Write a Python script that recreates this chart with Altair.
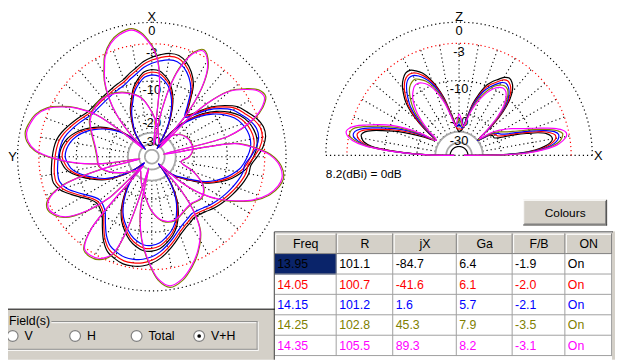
import altair as alt
import numpy as np
import pandas as pd

# ---------------- data ----------------
FREQ = ["13.95", "14.05", "14.15", "14.25", "14.35"]
R_COL = ["101.1", "100.7", "101.2", "102.8", "105.5"]
JX_COL = ["-84.7", "-41.6", "1.6", "45.3", "89.3"]
GA_COL = ["6.4", "6.1", "5.7", "7.9", "8.2"]
FB_COL = ["-1.9", "-2.0", "-2.1", "-3.5", "-3.1"]
ON_COL = ["On", "On", "On", "On", "On"]
HEADERS = ["Freq", "R", "jX", "Ga", "F/B", "ON"]
COLORS = ["#000000", "#ff0000", "#0000ff", "#808000", "#ff00ff"]

RING_DB = [0, -3, -10, -20, -30]
RING_LABELS = ["0", "-3", "-10", "-20", "-30"]
FIELDS = ["V", "H", "Total", "V+H"]
SELECTED_FIELD = "V+H"
REF_TEXT = "8.2(dBi) = 0dB"

# azimuth patterns (angle from X axis counter-clockwise, dB)
AZ_A1 = [(0,-8.0),(5,-8.4),(10,-9.7),(15,-11.5),(19,-13.9),(24,-16.7),(29,-20.8),(35,-26.3),(39,-35.1),(41,-45.3),
         (43,-38.3),(46,-29.4),(50,-22.6),(55,-18.1),(60,-14.8),(65,-12.3),(70,-10.3),(75,-8.8),(80,-7.8),(85,-7.2),
         (90,-7.0),(94,-7.4),(98,-8.0),(102,-9.2),(106,-11.0),(110,-13.1),(115,-16.0),(118,-18.5),(121,-22.2),(124,-26.3),
         (127,-33.3),(130,-45.3),(135,-31.6),(140,-23.1),(145,-18.1),(150,-14.2),(155,-11.5),(160,-9.7),(165,-8.2),(170,-7.2),
         (175,-6.6),(180,-6.6),(185,-7.0),(190,-8.0),(195,-9.2),(200,-11.0),(205,-13.7),(210,-17.4),(215,-23.6),(220,-35.1),
         (223,-45.3),(226,-33.3),(230,-26.3),(235,-22.2),(239,-18.8),(245,-13.7),(250,-11.0),(255,-8.8),(260,-7.2),(263,-6.4),
         (270,-5.3),(275,-4.7),(280,-4.5),(285,-4.7),(290,-5.2),(295,-6.1),(300,-7.6),(305,-9.7),(310,-12.6),(315,-16.7),
         (320,-23.1),(324,-31.6),(327,-45.3),(330,-31.6),(332,-24.1),(335,-19.2),(339,-14.8),(343,-12.0),(347,-10.1),(351,-9.0),
         (355,-8.2)]
AZ_A2 = [(0,-5.7),(5,-6.4),(10,-7.4),(15,-8.2),(20,-9.0),(25,-9.4),(30,-9.7),(40,-10.1),(50,-10.1),(55,-9.9),
         (60,-9.2),(65,-8.4),(70,-7.6),(75,-6.8),(80,-6.2),(85,-5.9),(90,-5.7),(95,-5.5),(100,-5.3),(105,-5.3),
         (110,-6.1),(115,-7.6),(120,-9.2),(125,-10.6),(130,-11.3),(135,-11.0),(140,-10.1),(145,-8.2),(150,-6.2),(155,-4.8),
         (160,-4.2),(165,-3.8),(170,-3.8),(175,-4.0),(180,-4.5),(185,-5.3),(190,-6.4),(195,-7.6),(200,-8.8),(205,-9.7),
         (210,-10.3),(215,-10.8),(220,-10.6),(225,-10.1),(230,-9.4),(235,-8.8),(240,-8.2),(245,-7.6),(250,-7.0),(255,-6.4),
         (260,-5.9),(265,-5.7),(270,-4.7),(275,-3.7),(280,-3.1),(285,-3.1),(290,-3.7),(295,-4.7),(300,-5.7),(305,-7.6),
         (310,-10.1),(315,-13.7),(320,-16.0),(325,-12.8),(330,-8.8),(335,-6.8),(340,-5.5),(345,-4.8),(350,-4.8),(355,-5.2)]
AZ_B1 = [(0,-3.4),(5,-1.5),(9,-0.8),(15,-1.1),(20,-1.9),(25,-3.4),(28,-5.0),(32,-7.2),(36,-10.6),(40,-15.7),
         (44,-26.3),(47,-42.2),(50,-23.6),(53,-11.5),(57,-7.2),(61,-4.7),(65,-2.8),(70,-1.6),(75,-1.1),(79,-0.9),
         (83,-1.3),(87,-2.5),(91,-5.5),(95,-10.3),(98,-17.4),(101,-42.2),(104,-16.7),(108,-6.2),(113,-3.1),(117,-2.6),
         (121,-3.1),(125,-4.3),(130,-8.2),(134,-14.2),(137,-42.2),(140,-6.2),(144,-2.8),(148,-2.5),(153,-2.8),(158,-4.3),
         (161,-8.8),(163,-18.8),(165,-42.2),(168,-15.7),(173,-8.4),(178,-4.5),(183,-1.6),(188,-0.5),(194,-1.1),(200,-2.5),
         (206,-4.3),(213,-7.2),(217,-11.0),(221,-19.2),(225,-42.2),(229,-21.3),(233,-13.7),(238,-8.8),(242,-6.2),(247,-3.4),
         (252,-1.6),(257,-0.6),(261,-0.3),(266,-0.8),(271,-2.3),(275,-4.7),(279,-8.2),(282,-42.2),(285,-9.2),(290,-4.0),
         (294,-1.9),(298,-0.9),(302,-1.3),(306,-2.8),(310,-4.8),(313,-8.2),(316,-15.7),(318,-42.2),(321,-14.2),(325,-6.8),
         (329,-3.7),(334,-2.3),(338,-3.2),(342,-5.9),(345,-9.7),(348,-18.5),(351,-42.2),(354,-10.3),(357,-5.3)]
AZ_B2 = [(0,-19.2),(10,-14.2),(20,-12.0),(30,-10.6),(40,-9.9),(50,-10.1),(60,-11.0),(70,-13.1),(80,-14.8),(90,-15.7),
         (100,-16.0),(110,-19.2),(120,-25.1),(130,-31.6),(140,-35.1),(150,-31.6),(160,-26.3),(170,-21.3),(180,-15.7),(190,-12.6),
         (200,-12.0),(210,-13.1),(220,-13.7),(230,-12.8),(240,-14.2),(250,-19.2),(260,-26.3),(270,-22.2),(280,-20.4),(290,-20.4),
         (300,-21.3),(310,-23.6),(320,-29.4),(330,-38.3),(340,-33.3),(350,-25.1)]
AZ_SHAPES = {"13.95": ("A", 0.5), "14.05": ("A", 0.0), "14.15": ("A", -0.6),
             "14.25": ("B", 0.2), "14.35": ("B", 0.0)}

# elevation patterns (angle from +X toward Z, dB)
EL_ANG = [0,1,2,4,6,8,10,12,14,16,18,20,22,24,27,30,33,36,39,42,45,48,51,54,57,60,63,66,69,72,
          75,78,81,84,87,90,93,96,99,102,105,108,111,114,117,120,123,126,129,132,135,138,141,144,147,150,
          153,156,159,162,164,166,168,170,172,174,176,178,179,180]
EL_DB = {
    "13.95": [-57.4,-19.2,-14.2,-9.7,-7.6,-6.4,-5.9,-6.1,-6.8,
              -8.4,-11.0,-13.7,-16.7,-19.6,-21.3,-21.3,-22.2,-26.3,-30.1,-18.8,
              -13.1,-9.7,-7.8,-6.8,-6.4,-6.8,-7.8,-8.8,-10.1,-12.6,-15.7,-21.3,-26.3,-28.7,-29.4,-30.1,
              -28.7,-26.3,-22.2,-18.1,-13.7,-10.6,-8.4,-6.8,-5.9,-5.3,-5.3,-5.9,-6.8,-8.2,-9.9,-12.6,
              -16.7,-22.2,-27.5,-25.1,-20.4,-16.0,-12.0,-8.8,-6.8,-5.5,
              -5.0,-5.2,-5.7,-7.2,-11.5,-19.2,-26.3,-57.4],
    "14.05": [-57.4,-18.5,-13.4,-9.0,-7.0,-5.9,-5.3,-5.3,-6.1,
              -7.6,-9.9,-12.3,-15.1,-17.7,-19.6,-20.0,-21.3,-25.7,-30.1,-19.6,
              -13.7,-10.3,-8.4,-7.4,-7.0,-7.4,-8.4,-9.4,-10.8,-13.4,-16.4,-21.3,-26.3,-28.1,-28.1,-28.1,
              -28.1,-26.3,-22.6,-18.5,-14.2,-11.0,-8.8,-7.4,-6.4,-5.9,-5.9,-6.4,-7.4,-8.8,-10.6,-13.4,
              -17.4,-23.1,-27.5,-23.6,-18.5,-14.2,-10.8,-8.0,-6.1,-4.8,
              -4.3,-4.5,-5.2,-6.6,-11.0,-18.8,-25.7,-57.4],
    "14.15": [-57.4,-18.1,-12.8,-8.6,-6.4,-5.3,-4.8,-4.7,-5.3,
              -6.8,-9.0,-11.3,-13.7,-16.0,-18.1,-19.2,-20.8,-25.1,-30.1,-20.4,
              -14.2,-10.8,-9.0,-8.0,-7.6,-8.0,-9.0,-10.1,-11.5,-13.9,-17.0,-21.7,-26.3,-27.5,-26.3,-25.1,
              -26.3,-26.3,-23.1,-19.2,-14.8,-11.5,-9.4,-8.0,-7.0,-6.4,-6.4,-7.0,-8.2,-9.7,-11.5,-14.5,
              -18.5,-24.1,-27.5,-22.2,-17.0,-12.8,-9.7,-7.0,-5.3,-4.2,
              -3.7,-3.8,-4.7,-6.2,-10.6,-18.5,-25.7,-57.4],
    "14.25": [-57.4,-17.4,-12.0,-8.0,-5.9,-4.7,-4.2,-4.0,-4.7,
              -6.1,-8.0,-10.1,-12.3,-14.2,-16.4,-18.1,-20.0,-24.1,-29.4,-21.3,
              -14.8,-11.5,-9.4,-8.4,-8.2,-8.6,-9.4,-10.8,-12.6,-14.8,-18.1,-22.6,-26.3,-26.3,-24.1,-22.6,
              -24.6,-26.3,-23.6,-19.6,-15.4,-12.3,-10.1,-8.6,-7.8,-7.2,-7.4,-8.0,-9.2,-10.8,-12.8,-16.0,
              -20.0,-25.1,-27.5,-20.8,-15.7,-11.5,-8.6,-6.1,-4.5,-3.4,
              -3.1,-3.2,-4.2,-6.1,-10.3,-18.1,-25.1,-57.4],
    "14.35": [-57.4,-16.7,-11.5,-7.6,-5.3,-4.2,-3.5,-3.4,-4.0,
              -5.3,-7.2,-9.0,-10.8,-12.3,-14.2,-16.4,-18.8,-22.6,-28.1,-22.2,
              -15.7,-12.0,-10.1,-9.0,-8.8,-9.2,-10.1,-11.5,-13.4,-15.7,-18.8,-23.1,-26.3,-25.1,-22.2,-20.4,
              -23.1,-26.3,-24.1,-20.4,-16.0,-13.1,-10.8,-9.4,-8.6,-8.2,-8.4,-9.2,-10.3,-12.0,-14.2,-17.4,
              -21.3,-26.3,-27.5,-19.6,-14.2,-10.3,-7.6,-5.3,-3.8,-2.9,
              -2.5,-2.8,-3.7,-5.7,-10.1,-18.1,-25.1,-57.4],
}

# ---------------- layout ----------------
X0, X1, Y0, Y1 = 8, 623, 8, 362
W, H = X1 - X0, Y1 - Y0
AZ_CX, AZ_CY, AZ_R = 153.7, 156.3, 136.0
EL_CX, EL_CY, EL_R = 465.0, 155.0, 135.0
FONT = "Liberation Sans"
GRAY = "#d4d0c8"
DOT = [1.2, 3]

xs = alt.Scale(domain=[X0, X1], nice=False, zero=False)
ys = alt.Scale(domain=[Y1, Y0], nice=False, zero=False)


def X(f="x"):
    return alt.X(f"{f}:Q", scale=xs, axis=None)


def Y(f="y"):
    return alt.Y(f"{f}:Q", scale=ys, axis=None)


def rad(db, R):
    return R * 10 ** (np.maximum(np.asarray(db, dtype=float), -60.0) / 40.0)


def az_xy(ang, db):
    r = rad(db, AZ_R)
    a = np.radians(np.asarray(ang, dtype=float))
    return AZ_CX - r * np.sin(a), AZ_CY - r * np.cos(a)


def el_xy(ang, db):
    r = rad(db, EL_R)
    a = np.radians(np.asarray(ang, dtype=float))
    return EL_CX + r * np.cos(a), EL_CY - r * np.sin(a)


layers = []


def rects(rows):
    df = pd.DataFrame(rows, columns=["x", "y", "x2", "y2", "fill"])
    return alt.Chart(df).mark_rect(strokeWidth=0).encode(
        x=X("x"), y=Y("y"), x2="x2:Q", y2="y2:Q", fill=alt.Fill("fill:N", scale=None))


def segs(rows, width=1, dash=None):
    df = pd.DataFrame(rows, columns=["x", "y", "x2", "y2", "stroke"])
    kw = dict(strokeWidth=width)
    if dash:
        kw["strokeDash"] = dash
    return alt.Chart(df).mark_rule(**kw).encode(
        x=X("x"), y=Y("y"), x2="x2:Q", y2="y2:Q", stroke=alt.Stroke("stroke:N", scale=None))


def paths(df, width=1.0, dash=None, interp="linear"):
    kw = dict(strokeWidth=width, interpolate=interp)
    if dash:
        kw["strokeDash"] = dash
    return alt.Chart(df).mark_line(**kw).encode(
        x=X("x"), y=Y("y"), order="o:Q", detail="g:N", stroke=alt.Stroke("stroke:N", scale=None))


def text_layer(df, size=12, align="center", color="black"):
    return alt.Chart(df).mark_text(font=FONT, fontSize=size, align=align, baseline="middle", color=color).encode(
        x=X("x"), y=Y("y"), text="t:N")


# backgrounds
layers.append(rects([(X0, 311, 278.3, Y1, GRAY), (620, 232, X1, Y1, GRAY)]))

# ---- grids ----
rad_rows = []
r_in, r_out = rad(-30, AZ_R), rad(-3, AZ_R)
for a in range(0, 360, 10):
    t = np.radians(a)
    rad_rows.append((AZ_CX - r_in * np.sin(t), AZ_CY - r_in * np.cos(t),
                     AZ_CX - r_out * np.sin(t), AZ_CY - r_out * np.cos(t), "#000000"))
e_in, e_out = rad(-30, EL_R), rad(-3, EL_R)
for a in range(10, 180, 10):
    t = np.radians(a)
    rad_rows.append((EL_CX + e_in * np.cos(t), EL_CY - e_in * np.sin(t),
                     EL_CX + e_out * np.cos(t), EL_CY - e_out * np.sin(t), "#000000"))
rad_rows.append((EL_CX - EL_R, EL_CY, EL_CX + EL_R, EL_CY, "#000000"))
layers.append(segs(rad_rows, 1.1, DOT))

ring_frames = []
circ = np.arange(0, 361, 1.0)
semi = np.arange(0, 181, 1.0)
for db in [0, -3, -10, -20]:
    col = "#ff0000" if db == -3 else "#000000"
    x, y = az_xy(circ, np.full(circ.shape, float(db)))
    ring_frames.append(pd.DataFrame({"x": x, "y": y, "o": circ, "g": f"az{db}", "stroke": col}))
    x, y = el_xy(semi, np.full(semi.shape, float(db)))
    ring_frames.append(pd.DataFrame({"x": x, "y": y, "o": semi, "g": f"el{db}", "stroke": col}))
layers.append(paths(pd.concat(ring_frames), 1.2, DOT))

gray_frames = []
t = np.radians(circ)
for i, rr in enumerate([rad(-30, AZ_R), 13.0, 7.0]):
    gray_frames.append(pd.DataFrame({"x": AZ_CX - rr * np.sin(t), "y": AZ_CY - rr * np.cos(t),
                                     "o": circ, "g": f"g{i}", "stroke": "#a8a8a8"}))
t = np.radians(semi)
for i, rr in enumerate([rad(-30, EL_R), 13.0]):
    gray_frames.append(pd.DataFrame({"x": EL_CX + rr * np.cos(t), "y": EL_CY - rr * np.sin(t),
                                     "o": semi, "g": f"ge{i}", "stroke": "#a8a8a8"}))
layers.append(paths(pd.concat(gray_frames), 1.8))
blk = pd.DataFrame({"x": EL_CX + 9 * np.cos(t), "y": EL_CY - 9 * np.sin(t), "o": semi, "g": "b", "stroke": "#000000"})
layers.append(paths(blk, 1.2))

# ---- labels ----
lab_rows = [("X", AZ_CX, AZ_CY - AZ_R - 5), ("Y", AZ_CX - AZ_R - 5, AZ_CY),
            ("Z", EL_CX, EL_CY - EL_R - 5), ("X", EL_CX + EL_R + 6, EL_CY + 1)]
for db, lab in zip(RING_DB, RING_LABELS):
    lab_rows.append((lab, AZ_CX, AZ_CY - rad(db, AZ_R) + 9))
    lab_rows.append((lab, EL_CX, EL_CY - rad(db, EL_R) + 9))
layers.append(text_layer(pd.DataFrame(lab_rows, columns=["t", "x", "y"]), 13))

# ---- pattern curves ----
for s, col in zip(FREQ, COLORS):
    shape, off = AZ_SHAPES[s]
    comps = [AZ_A1, AZ_A2] if shape == "A" else [AZ_B1, AZ_B2]
    frames = []
    for k, comp in enumerate(comps):
        ang = [p[0] for p in comp] + [comp[0][0] + 360]
        db = [p[1] + off for p in comp] + [comp[0][1] + off]
        x, y = az_xy(ang, db)
        frames.append(pd.DataFrame({"x": x, "y": y, "o": np.arange(len(ang)), "g": f"{s}-{k}", "stroke": col}))
    layers.append(paths(pd.concat(frames), 1.2, interp="catmull-rom"))
    x, y = el_xy(EL_ANG, EL_DB[s])
    layers.append(paths(pd.DataFrame({"x": x, "y": y, "o": np.arange(len(EL_ANG)), "g": s, "stroke": col}),
                        1.2, interp="catmull-rom"))

layers.append(text_layer(pd.DataFrame({"t": [REF_TEXT], "x": [330], "y": [174]}), 12, "left"))

# ---- Colours button ----
BX0, BY0, BX1, BY1 = 530, 200, 615, 226
layers.append(rects([(BX0, BY0, BX1, BY1, GRAY)]))
layers.append(segs([(BX0, BY0 + 0.5, BX1, BY0 + 0.5, "#ffffff"), (BX0 + 0.5, BY0, BX0 + 0.5, BY1, "#ffffff"),
                    (BX0, BY1 - 0.5, BX1, BY1 - 0.5, "#404040"), (BX1 - 0.5, BY0, BX1 - 0.5, BY1, "#404040"),
                    (BX0 + 1, BY1 - 1.5, BX1 - 1, BY1 - 1.5, "#808080"), (BX1 - 1.5, BY0 + 1, BX1 - 1.5, BY1 - 1, "#808080")]))
layers.append(text_layer(pd.DataFrame({"t": ["Colours"], "x": [(BX0 + BX1) / 2], "y": [(BY0 + BY1) / 2]}), 12))

# ---- table ----
CE = [278.3, 341, 398.3, 462.7, 519.3, 572.7, 620]
RE = [234, 255, 275.7, 296.3, 317, 337.7, 358.3]
hdr = [(CE[i], RE[0], CE[i + 1], RE[1], GRAY) for i in range(6)]
hdr.append((CE[0], RE[1], CE[1], RE[2], "#0a246a"))
layers.append(rects(hdr))
g_rows = []
for i in range(6):
    g_rows += [(CE[i] + 1, RE[0] + 1, CE[i + 1] - 1, RE[0] + 1, "#ffffff"),
               (CE[i] + 1, RE[0] + 1, CE[i] + 1, RE[1] - 1, "#ffffff"),
               (CE[i], RE[1] - 0.5, CE[i + 1], RE[1] - 0.5, "#808080"),
               (CE[i + 1] - 0.5, RE[0], CE[i + 1] - 0.5, RE[1], "#808080")]
for j in range(2, 7):
    g_rows.append((CE[0], RE[j] - 0.5, CE[6], RE[j] - 0.5, "#a0a0a0"))
for i in range(1, 7):
    g_rows.append((CE[i] - 0.5, RE[1], CE[i] - 0.5, RE[6], "#a0a0a0"))
g_rows += [(CE[0] - 0.5, 232.5, CE[6] + 1, 232.5, "#404040"), (CE[0] - 0.5, 232.5, CE[0] - 0.5, Y1, "#404040"),
           (X0, 310.8, CE[0], 310.8, "#000000")]
layers.append(segs(g_rows, 1))

cells = []
for i, h in enumerate(HEADERS):
    cells.append((h, (CE[i] + CE[i + 1]) / 2, (RE[0] + RE[1]) / 2, "#000000", "center"))
cols = [FREQ, R_COL, JX_COL, GA_COL, FB_COL, ON_COL]
for r in range(5):
    for c in range(6):
        cells.append((cols[c][r], CE[c] + 2.5, (RE[r + 1] + RE[r + 2]) / 2, COLORS[r], "left"))
cell_df = pd.DataFrame(cells, columns=["t", "x", "y", "col", "al"])
for al in ["center", "left"]:
    layers.append(alt.Chart(cell_df[cell_df.al == al]).mark_text(font=FONT, fontSize=12.5, align=al, baseline="middle").encode(
        x=X("x"), y=Y("y"), text="t:N", color=alt.Color("col:N", scale=None)))

# ---- Field(s) group ----
fr = [(X0, 323.5, 261, 323.5, "#808080"), (X0, 324.5, 260, 324.5, "#ffffff"),
      (260.5, 323.5, 260.5, 351.5, "#808080"), (261.5, 323.5, 261.5, 352.5, "#ffffff"),
      (X0, 351.5, 261, 351.5, "#808080"), (X0, 352.5, 262, 352.5, "#ffffff")]
layers.append(segs(fr, 1))
layers.append(rects([(X0, 316, 52, 329, GRAY)]))
RADIO_X = [12.7, 76, 138.3, 201.7]
ry = 338
radio_df = pd.DataFrame({"x": RADIO_X, "y": [ry] * 4, "t": FIELDS, "tx": [x + 12 for x in RADIO_X]})
layers.append(alt.Chart(radio_df).mark_circle(size=120, fill="white", stroke="#808080", strokeWidth=1.2, opacity=1).encode(
    x=X("x"), y=Y("y")))
layers.append(alt.Chart(radio_df[radio_df.t == SELECTED_FIELD]).mark_circle(size=14, color="black", opacity=1).encode(
    x=X("x"), y=Y("y")))
layers.append(alt.Chart(radio_df).mark_text(font=FONT, fontSize=12.5, align="left", baseline="middle", color="black").encode(
    x=X("tx"), y=Y("y"), text="t:N"))
layers.append(text_layer(pd.DataFrame({"t": ["Field(s)"], "x": [9], "y": [322.5]}), 12.5, "left"))

chart = alt.layer(*layers).properties(width=W, height=H, padding=0, autosize="none",
                                      background="white").configure_view(stroke=None)
chart.save("out.html", embed_options={"renderer": "svg", "actions": False})
